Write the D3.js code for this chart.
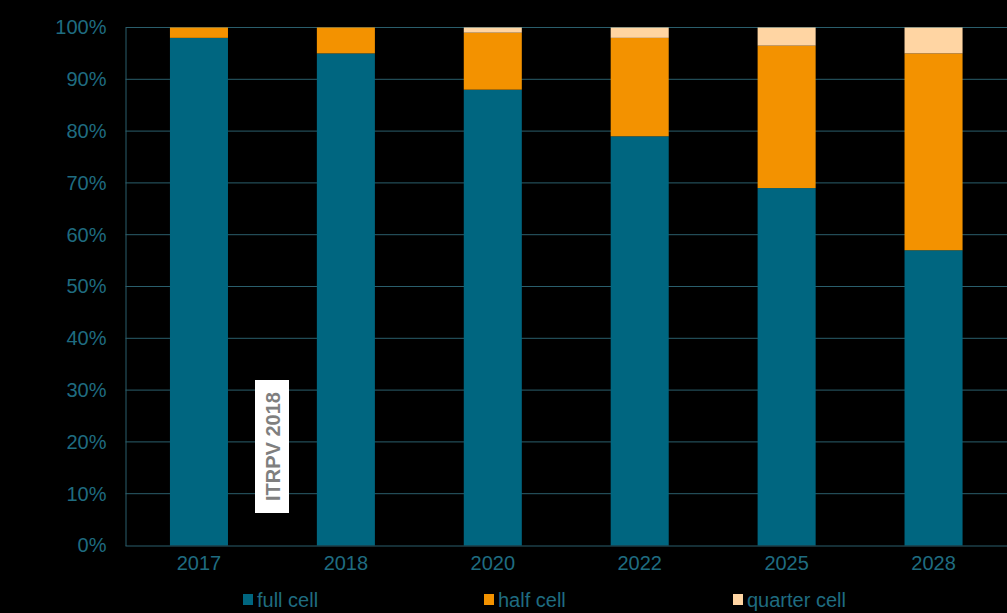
<!DOCTYPE html>
<html><head><meta charset="utf-8">
<script src="https://cdn.jsdelivr.net/npm/d3@7"></script>
<style>html,body{margin:0;padding:0;background:#000;}svg{display:block;}</style>
</head><body>
<svg id="chart" width="1007" height="613"></svg>
<script>
const categories = ["2017","2018","2020","2022","2025","2028"];
const fullCell = [98, 95, 88, 79, 69, 57];
const halfCell = [2, 5, 11, 19, 27.5, 38];
const quarterCell = [0, 0, 1, 2, 3.5, 5];
const seriesNames = ["full cell","half cell","quarter cell"];
const yTicks = [0,10,20,30,40,50,60,70,80,90,100];

const colors = ["#006680","#F39200","#FFD5A3"];
const textColor = "#1F6C80";
const gridColor = "#2A5E6C";
const font = "Liberation Sans, Arial, sans-serif";

const svg = d3.select("#chart");
const W = 1007, H = 613;
const margin = {left:125.5, right:0, top:27.5, bottom:67.5};
const x = d3.scaleBand().domain(categories).range([margin.left, W]).paddingInner(0.605).paddingOuter(0.3025);
const y = d3.scaleLinear().domain([0,100]).range([H - margin.bottom, margin.top]);

svg.append("rect").attr("width",W).attr("height",H).attr("fill","#000");

// gridlines
svg.append("g").selectAll("line").data(yTicks.filter(d=>d>0)).join("line")
  .attr("x1",margin.left).attr("x2",W)
  .attr("y1",d=>y(d)).attr("y2",d=>y(d))
  .attr("stroke",gridColor).attr("stroke-width",1);

// data table
const table = categories.map((c,i)=>({cat:c, "full cell":fullCell[i], "half cell":halfCell[i], "quarter cell":quarterCell[i]}));
const stacked = d3.stack().keys(seriesNames)(table);

svg.append("g").selectAll("g").data(stacked).join("g")
  .attr("fill",(d,i)=>colors[i])
  .selectAll("rect").data(d=>d).join("rect")
  .attr("x",d=>x(d.data.cat))
  .attr("width",x.bandwidth())
  .attr("y",d=>y(d[1]))
  .attr("height",d=>Math.max(0,y(d[0])-y(d[1])));

// axes
const yAxis = svg.append("g").attr("transform",`translate(${margin.left},0)`)
  .call(d3.axisLeft(y).tickValues(yTicks).tickFormat(d=>d+"%").tickSize(0).tickPadding(19));
yAxis.select(".domain").attr("stroke",gridColor);
yAxis.selectAll("text").attr("fill",textColor).attr("font-family",font).attr("font-size","20px");

const xAxis = svg.append("g").attr("transform",`translate(0,${y(0)})`)
  .call(d3.axisBottom(x).tickSize(0).tickPadding(10));
xAxis.select(".domain").attr("stroke",gridColor).attr("d",`M${margin.left},0.5H${W}`);
xAxis.selectAll("text").attr("fill",textColor).attr("font-family",font).attr("font-size","20px");

// legend
const legendX = [243, 484, 733];
const lg = svg.append("g").selectAll("g").data(seriesNames).join("g")
  .attr("transform",(d,i)=>`translate(${legendX[i]},${600})`);
lg.append("rect").attr("x",0).attr("y",-6).attr("width",10).attr("height",11).attr("fill",(d,i)=>colors[i]);
lg.append("text").attr("x",14).attr("y",7).text(d=>d)
  .attr("fill",textColor).attr("font-family",font).attr("font-size","20px");

// ITRPV label
const lab = svg.append("g");
lab.append("rect").attr("x",255).attr("y",380).attr("width",34).attr("height",133).attr("fill","#fff");
lab.append("text").attr("transform","translate(280,446.5) rotate(-90)")
  .attr("text-anchor","middle").attr("fill","#7F7F7F").attr("font-weight","bold")
  .attr("font-family",font).attr("font-size","20px")
  .text("ITRPV 2018");
</script>
</body></html>
